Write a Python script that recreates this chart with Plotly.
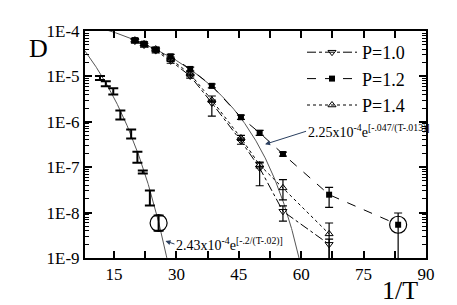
import numpy as np
import plotly.graph_objects as go

# ---------------- data ----------------
x_P = [20.0, 22.2, 25.0, 28.6, 33.3, 38.5, 45.5, 50.0, 55.6, 66.7]
x_P12 = [20.0, 22.2, 25.0, 28.6, 33.3, 38.5, 45.5, 50.0, 55.6, 66.7, 83.3]

y_P10 = [6.0e-5, 4.9e-5, 3.7e-5, 2.2e-5, 1.02e-5, 2.6e-6, 3.8e-7, 9.6e-8, 1.07e-8, 2.0e-9]
hi_P10 = [6.6e-5, 5.4e-5, 4.1e-5, 2.45e-5, 1.13e-5, 3.0e-6, 4.4e-7, 1.24e-7, 1.4e-8, 2.6e-9]
lo_P10 = [5.4e-5, 4.4e-5, 3.3e-5, 1.95e-5, 9.2e-6, 1.34e-6, 3.2e-7, 3.9e-8, 6.5e-9, 1e-10]

y_P12 = [6.3e-5, 5.25e-5, 3.9e-5, 2.77e-5, 1.46e-5, 6.2e-6, 1.26e-6, 5.7e-7, 1.95e-7, 2.48e-8, 5.4e-9]
hi_P12 = [6.9e-5, 5.8e-5, 4.3e-5, 3.05e-5, 1.6e-5, 6.8e-6, 1.4e-6, 6.5e-7, 2.15e-7, 3.6e-8, 9.8e-9]
lo_P12 = [5.7e-5, 4.75e-5, 3.5e-5, 2.5e-5, 1.32e-5, 5.6e-6, 1.13e-6, 5.0e-7, 1.75e-7, 1.3e-8, 1e-10]

y_P14 = [6.3e-5, 5.2e-5, 4.0e-5, 2.4e-5, 1.13e-5, 3.0e-6, 4.4e-7, 1.12e-7, 3.5e-8, 3.4e-9]
hi_P14 = [6.9e-5, 5.7e-5, 4.4e-5, 2.65e-5, 1.25e-5, 3.7e-6, 5.0e-7, 1.3e-7, 5.3e-8, 5.9e-9]
lo_P14 = [5.7e-5, 4.7e-5, 3.6e-5, 2.15e-5, 1.02e-5, 2.7e-6, 3.9e-7, 9.6e-8, 1.9e-8, 1e-10]

x_L = [11.6, 13.0, 14.8, 16.5, 19.1, 20.6, 21.9, 23.6, 25.7]
y_L = [9.2e-6, 6.9e-6, 4.7e-6, 1.41e-6, 5.4e-7, 1.66e-7, 7.8e-8, 2.1e-8, 5.9e-9]
hi_L = [1.02e-5, 7.8e-6, 5.5e-6, 1.77e-6, 6.8e-7, 2.19e-7, 8.5e-8, 3.07e-8, 8.6e-9]
lo_L = [8.3e-6, 6.1e-6, 4.0e-6, 1.12e-6, 4.3e-7, 1.25e-7, 7.3e-8, 1.43e-8, 4.0e-9]

circled_x = [25.7, 83.3]
circled_y = [5.9e-9, 5.4e-9]

# fit parameters (as printed on the chart)
A1, E1, T01 = 2.43e-4, 0.2, 0.02
A2, E2, T02 = 2.25e-4, 0.047, 0.013

x_ticks = [15, 22.5, 30, 37.5, 45, 52.5, 60, 67.5, 75, 82.5, 90]
x_ticktext = ["15", "", "30", "", "45", "", "60", "", "75", "", "90"]
y_ticks = [1e-9, 1e-8, 1e-7, 1e-6, 1e-5, 1e-4]
y_ticktext = ["1E-9", "1E-8", "1E-7", "1E-6", "1E-5", "1E-4"]

FONT = "Liberation Serif"


def err(y, hi, lo):
    return dict(type="data", symmetric=False,
                array=[h - v for h, v in zip(hi, y)],
                arrayminus=[v - l for v, l in zip(y, lo)],
                color="black", thickness=1.2, width=4)


fig = go.Figure()

# fit curves
xf1 = np.linspace(8, 30, 300)
yf1 = A1 * np.exp(-E1 / (1.0 / xf1 - T01))
xf2 = np.linspace(8, 62, 400)
yf2 = A2 * np.exp(-E2 / (1.0 / xf2 - T02))
fig.add_trace(go.Scatter(x=xf1, y=yf1, mode="lines", line=dict(color="#555555", width=1), showlegend=False))
fig.add_trace(go.Scatter(x=xf2, y=yf2, mode="lines", line=dict(color="#555555", width=1), showlegend=False))

# low-T series (error bars only)
e = err(y_L, hi_L, lo_L)
e.update(thickness=2, width=5)
fig.add_trace(go.Scatter(x=x_L, y=y_L, mode="markers", marker=dict(size=1, color="black"),
                         error_y=e, showlegend=False))

fig.add_trace(go.Scatter(x=x_P, y=y_P10, name="P=1.0", mode="lines+markers",
                         line=dict(color="black", width=1, dash="dashdot"),
                         marker=dict(symbol="triangle-down-open", size=7, color="black", line=dict(width=1)),
                         error_y=err(y_P10, hi_P10, lo_P10)))
fig.add_trace(go.Scatter(x=x_P12, y=y_P12, name="P=1.2", mode="lines+markers",
                         line=dict(color="black", width=1, dash="dash"),
                         marker=dict(symbol="square", size=6, color="black"),
                         error_y=err(y_P12, hi_P12, lo_P12)))
fig.add_trace(go.Scatter(x=x_P, y=y_P14, name="P=1.4", mode="lines+markers",
                         line=dict(color="black", width=1, dash="dot"),
                         marker=dict(symbol="triangle-up-open", size=7, color="black", line=dict(width=1)),
                         error_y=err(y_P14, hi_P14, lo_P14)))

fig.add_trace(go.Scatter(x=circled_x, y=circled_y, mode="markers", showlegend=False,
                         marker=dict(symbol="circle-open", size=17, color="black", line=dict(width=1.2))))

axis_common = dict(showline=True, linecolor="black", linewidth=2, mirror="allticks",
                   ticks="inside", ticklen=7, tickwidth=1.5, tickcolor="black",
                   showgrid=False, zeroline=False,
                   tickfont=dict(family=FONT, size=17, color="black"))

fig.update_xaxes(range=[8, 90], tickmode="array", tickvals=x_ticks, ticktext=x_ticktext, **axis_common)
fig.update_yaxes(type="log", range=[-9, -4], tickmode="array", tickvals=y_ticks, ticktext=y_ticktext,
                 minor=dict(ticks="inside", ticklen=4, tickwidth=1, tickcolor="black",
                            tickmode="array",
                            tickvals=[k * 10.0 ** p for p in range(-9, -4) for k in range(2, 10)]),
                 **axis_common)

fig.add_annotation(text="D", xref="paper", yref="paper", x=(30 - 77) / 341, y=1 + (23 - 40) / 227,
                   xanchor="center", yanchor="middle",
                   showarrow=False, font=dict(family=FONT, size=26, color="black"))
fig.add_annotation(text="1/T", xref="paper", yref="paper", x=(392 - 77) / 341, y=-(282 - 250) / 227,
                   xanchor="center", yanchor="middle",
                   showarrow=False, font=dict(family=FONT, size=26, color="black"))

fig.add_annotation(text="2.25x10<sup>-4</sup>e<sup>[-.047/(T-.013)]</sup>", x=51.3, y=np.log10(3.2e-7),
                   ax=41, ay=-13, xanchor="left", showarrow=True, arrowhead=2, arrowsize=1, arrowwidth=1,
                   font=dict(family=FONT, size=14, color="black"))
fig.add_annotation(text="2.43x10<sup>-4</sup>e<sup>[-.2/(T-.02)]</sup>", x=27.35, y=-8.626,
                   ax=9, ay=3, xanchor="left", showarrow=True, arrowhead=2, arrowsize=1, arrowwidth=1,
                   font=dict(family=FONT, size=14, color="black"))

fig.update_layout(width=457, height=305, margin=dict(l=77, r=39, t=23, b=55),
                  paper_bgcolor="white", plot_bgcolor="white",
                  legend=dict(x=(294 - 77) / 341, y=1 - (26 - 23) / 227, xanchor="left", yanchor="top",
                              bgcolor="rgba(0,0,0,0)", itemwidth=50,
                              font=dict(family=FONT, size=18, color="black")))

fig.write_html("out.html")
